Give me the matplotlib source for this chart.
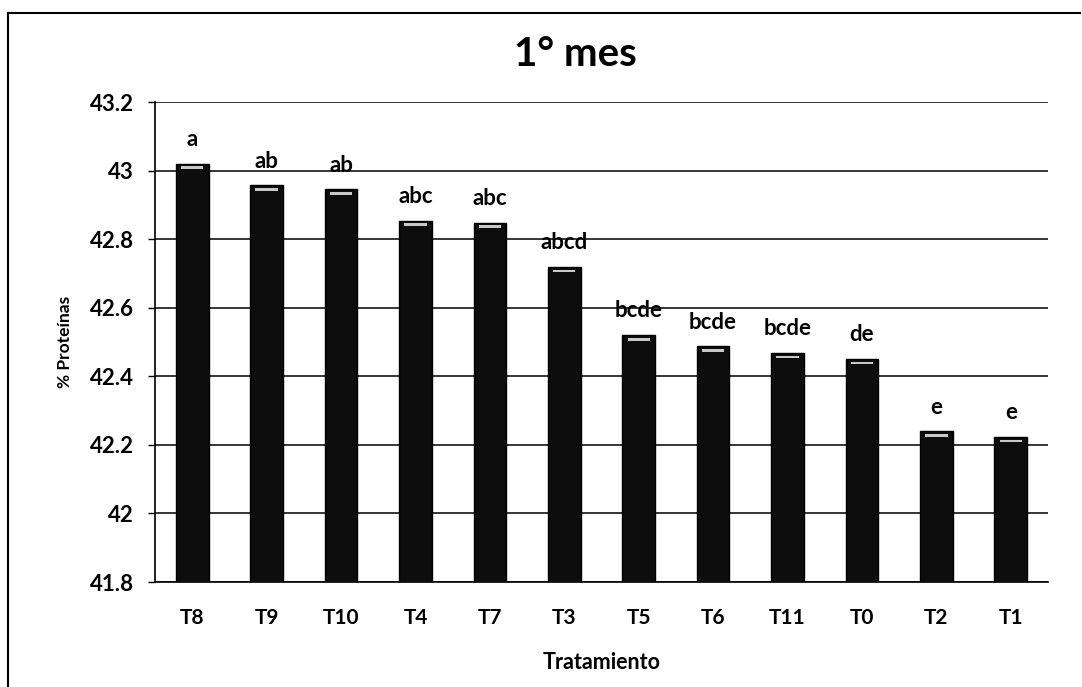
import numpy as np
import matplotlib
matplotlib.use("Agg")
import matplotlib.pyplot as plt
from matplotlib.lines import Line2D

plt.rcParams['font.family'] = ['Lato', 'DejaVu Sans']

treatments = ['T8', 'T9', 'T10', 'T4', 'T7', 'T3', 'T5', 'T6', 'T11', 'T0', 'T2', 'T1']
protein = [43.02, 42.957, 42.945, 42.854, 42.848, 42.719, 42.52, 42.487, 42.468, 42.451, 42.239, 42.223]
letters = ['a', 'ab', 'ab', 'abc', 'abc', 'abcd', 'bcde', 'bcde', 'bcde', 'de', 'e', 'e']
y_ticks = [41.8, 42, 42.2, 42.4, 42.6, 42.8, 43, 43.2]

fig = plt.figure(figsize=(10.82, 6.87), dpi=100)
W, H = 1082, 687
ax = fig.add_axes([155 / W, 1 - 582 / H, (1048 - 155) / W, (582 - 102) / H])

x = np.arange(len(treatments))
ax.bar(x, [p - 41.8 for p in protein], bottom=41.8, width=0.44,
       color='#0d0d0d', edgecolor='black', linewidth=1, zorder=3)
# light highlight near the top of each bar
ax.bar(x, [0.008] * len(x), bottom=[p - 0.016 for p in protein], width=0.30,
       color='#c8c8c8', linewidth=0, zorder=4)

for xi, p, lab in zip(x, protein, letters):
    ax.text(xi, p + 0.04, lab, ha='center', va='bottom',
            fontsize=16, fontweight='bold', color='black', zorder=5)

ax.set_xlim(-0.5, len(treatments) - 0.5)
ax.set_ylim(41.8, 43.2)
ax.set_yticks(y_ticks)
ax.set_yticklabels([f'{v:g}' for v in y_ticks], fontsize=16, fontweight='bold')
ax.set_xticks(x)
ax.set_xticklabels(treatments, fontsize=15, fontweight='bold')
ax.tick_params(axis='x', length=0, pad=19)
ax.tick_params(axis='y', length=5, width=1, direction='out', pad=10)
ax.yaxis.grid(True, color='black', linewidth=1.1, zorder=0)
ax.set_axisbelow(True)

for s in ['top', 'right']:
    ax.spines[s].set_visible(False)
ax.spines['left'].set_linewidth(1.2)
ax.spines['bottom'].set_linewidth(1.2)

ax.set_ylabel('% Proteínas', fontsize=12.5, fontweight='bold', labelpad=12)
ax.set_xlabel('Tratamiento', fontsize=15.5, fontweight='bold', labelpad=17)

fig.text(575 / W, 1 - 54 / H, '1° mes', ha='center', va='center',
         fontsize=29, fontweight='bold')

# outer chart frame
fig.add_artist(Line2D([8 / W, 8 / W], [0, 1 - 13 / H], color='black', linewidth=1.5))
fig.add_artist(Line2D([8 / W, 1080 / W], [1 - 13 / H, 1 - 13 / H], color='black', linewidth=1.5))

fig.savefig('out.png', dpi=100)
